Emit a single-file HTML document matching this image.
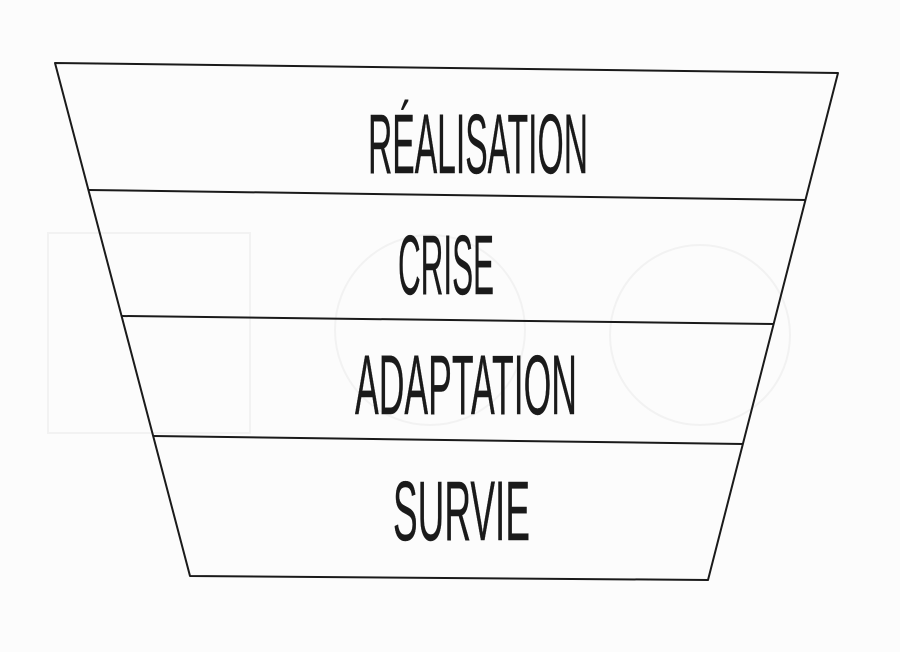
<!DOCTYPE html>
<html><head><meta charset="utf-8"><style>
html,body{margin:0;padding:0;background:#fcfcfc;}
svg{display:block}
</style></head><body>
<svg width="900" height="652" viewBox="0 0 900 652" xmlns="http://www.w3.org/2000/svg">
<rect width="900" height="652" fill="#fcfcfc"/>
<g fill="none" stroke="#f2f2f2" stroke-width="2">
<rect x="48" y="233" width="202" height="200"/>
<circle cx="430" cy="330" r="95"/>
<circle cx="700" cy="335" r="90"/>
</g>
<g fill="none" stroke="#1a1a1a" stroke-width="2" stroke-linejoin="round">
<polygon points="55,63 838,73 708,580 190,576"/>
<line x1="89" y1="190" x2="806" y2="200"/>
<line x1="122" y1="316" x2="774" y2="324"/>
<line x1="153" y1="436" x2="743" y2="444"/>
</g>
<g font-family="'Liberation Sans Narrow','Liberation Sans',sans-serif" font-size="84" fill="#1a1a1a" stroke="#1a1a1a" stroke-width="0.4">
<text x="368" y="173" textLength="220" lengthAdjust="spacingAndGlyphs">RÉALISATION</text>
<text x="398" y="294" textLength="96" lengthAdjust="spacingAndGlyphs">CRISE</text>
<text x="355" y="414" textLength="222" lengthAdjust="spacingAndGlyphs">ADAPTATION</text>
<text x="393" y="540" textLength="137" lengthAdjust="spacingAndGlyphs">SURVIE</text>
</g>
</svg>
</body></html>
